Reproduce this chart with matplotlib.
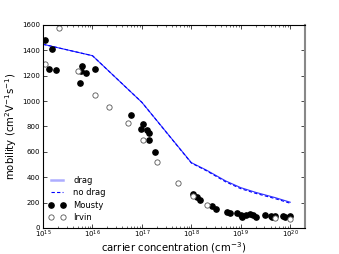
import matplotlib
matplotlib.use("Agg")
import matplotlib.pyplot as plt
import numpy as np

# model curves
model_n = [1e15, 1e16, 1e17, 1e18, 2e18, 5e18, 1e19, 2e19, 5e19, 1e20]
drag_mu = [1448, 1358, 990, 515, 457, 370, 318, 281, 239, 203]
nodrag_mu = [1448, 1358, 990, 512, 452, 363, 310, 273, 231, 195]

# Mousty (filled)
mousty_n = [1.1e15, 1.5e15, 1.3e15, 1.85e15, 6.1e15, 5.9e15, 7.4e15, 5.7e15, 1.1e16,
            5.9e16, 1.05e17, 9.8e16, 1.26e17, 1.37e17, 1.4e17, 1.8e17,
            1.07e18, 1.3e18, 1.5e18, 2.6e18, 3.2e18, 5.2e18, 6.1e18, 8.3e18,
            1.0e19, 1.07e19, 1.3e19, 1.55e19, 1.75e19, 2.05e19, 3.1e19, 4.0e19,
            4.2e19, 5.0e19, 7.1e19, 7.9e19, 9.8e19]
mousty_mu = [1481, 1413, 1250, 1245, 1279, 1237, 1224, 1140, 1255,
             893, 817, 778, 772, 746, 697, 598,
             268, 244, 221, 172, 146, 125, 121, 119,
             102, 89, 105, 110, 100, 84, 100, 92,
             84, 97, 95, 89, 95]

# Irvin (open)
irvin_n = [1.1e15, 2.1e15, 5.2e15, 1.1e16, 2.2e16, 5.2e16, 1.05e17, 2.0e17,
           5.4e17, 1.07e18, 2.05e18, 5.0e19, 1.0e20]
irvin_mu = [1292, 1574, 1240, 1050, 955, 825, 693, 518,
            355, 252, 181, 76, 69]

fig = plt.figure(figsize=(3.39, 2.54), dpi=100)
ax = fig.add_axes([0.127, 0.1024, 0.773, 0.7992])

ax.plot(model_n, drag_mu, color='blue', lw=0.8, label='drag', alpha=0.8)
ax.plot(model_n, nodrag_mu, color='blue', lw=0.8, ls='--', dashes=(3, 2), label='no drag')
ax.plot(mousty_n, mousty_mu, 'o', color='black', ms=3.8, label='Mousty')
ax.plot(irvin_n, irvin_mu, 'o', mfc='white', mec='#555555', mew=0.6, ms=3.8, label='Irvin')

ax.set_xscale('log')
ax.set_xlim(1e15, 2e20)
ax.set_ylim(0, 1600)
ax.set_yticks(np.arange(0, 1601, 200))

ax.tick_params(which='both', direction='in', top=True, right=True, labelsize=5)
ax.tick_params(axis='x', pad=0.5)
ax.tick_params(axis='y', pad=2)
ax.tick_params(which='major', length=3, width=0.5)
ax.tick_params(which='minor', length=1.5, width=0.4)
for s in ['left', 'top', 'bottom']:
    ax.spines[s].set_linewidth(0.8)
ax.spines['right'].set_color('#888888')
ax.spines['right'].set_linewidth(1.5)

ax.set_xlabel('carrier concentration (cm$^{-3}$)', fontsize=7.3, labelpad=0)
ax.set_ylabel('mobility (cm$^2$V$^{-1}$s$^{-1}$)', fontsize=7.3, labelpad=2)

leg = ax.legend(loc='lower left', numpoints=2, frameon=False, fontsize=6,
                handlelength=2.0, handletextpad=0.9, labelspacing=0.42,
                borderaxespad=0.3, bbox_to_anchor=(0.0, 0.0))
leg.get_lines()[0].set_color('#9999ff')
leg.get_lines()[0].set_linewidth(1.8)

fig.savefig('out.png', dpi=100)
